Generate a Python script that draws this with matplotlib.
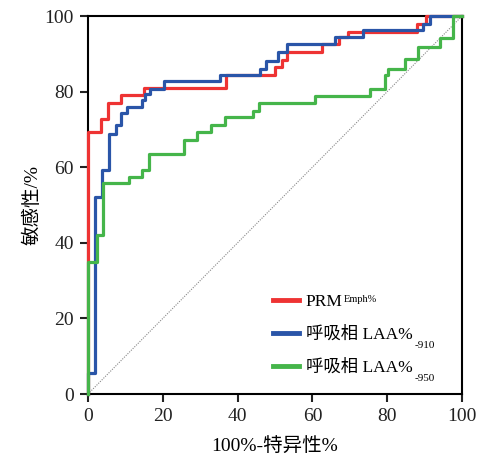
import matplotlib
matplotlib.use("Agg")
import matplotlib.pyplot as plt

plt.rcParams['font.family'] = ['Liberation Serif', 'Noto Sans CJK SC']

# ROC data (1-specificity %, sensitivity %), step points
prm_fpr = [0, 0, 3.4, 5.3, 8.9, 15, 37, 50, 51.8, 53.1, 62.5, 67, 69.6, 88, 90.5, 100]
prm_tpr = [0, 69.4, 72.8, 76.9, 79, 80.9, 84.4, 86.6, 88.4, 90.6, 92.5, 94.5, 95.9, 98, 100, 100]

laa910_fpr = [0, 0, 1.8, 3.8, 5.6, 7.4, 8.7, 10.5, 14.5, 15.2, 16.5, 20.2, 35.3, 46, 47.6,
              50.9, 53.1, 66, 73.6, 89.6, 91.4, 100]
laa910_tpr = [0, 5.6, 52, 59.3, 68.8, 71.2, 74.4, 76, 77.8, 79.5, 80.8, 82.7, 84.4, 86.1, 88.2,
              90.6, 92.5, 94.5, 96.2, 98, 100, 100]

laa950_fpr = [0, 0, 2.3, 4, 11, 14.5, 16.3, 25.6, 29.2, 33, 36.6, 44, 45.7, 60.7, 75.4,
              79.4, 80.3, 84.8, 88.3, 94.1, 97.5, 100]
laa950_tpr = [0, 35, 42, 55.7, 57.5, 59.3, 63.4, 67.3, 69.2, 71.2, 73.2, 75, 76.9, 78.8, 80.7,
              84.4, 86.1, 88.5, 91.9, 94.1, 100, 100]

labels = ['PRM', '呼吸相 LAA%', '呼吸相 LAA%']
label_sups = ['Emph%', None, None]
label_subs = [None, '-910', '-950']
ticks = [0, 20, 40, 60, 80, 100]

fig = plt.figure(figsize=(4.85, 4.59), dpi=100)
ax = fig.add_axes([0.1814, 0.1416, 0.7712, 0.8235])

ax.plot([0, 100], [0, 100], color='#888888', linestyle=(0, (1, 1.2)), linewidth=0.8, zorder=1)

l1, = ax.plot(prm_fpr, prm_tpr, drawstyle='steps-post', color='#EE3333', linewidth=2.3,
              clip_on=False, zorder=3, label=labels[0])
l2, = ax.plot(laa910_fpr, laa910_tpr, drawstyle='steps-post', color='#2A55A8', linewidth=2.3,
              clip_on=False, zorder=4, label=labels[1])
l3, = ax.plot(laa950_fpr, laa950_tpr, drawstyle='steps-post', color='#45B54A', linewidth=2.3,
              clip_on=False, zorder=5, label=labels[2])

ax.set_xlim(0, 100)
ax.set_ylim(0, 100)
ax.set_xticks(ticks)
ax.set_yticks(ticks)
ax.tick_params(direction='out', length=6, width=1.5, pad=4, labelsize=14, colors='#222222',
               top=False, right=False)
for sp in ax.spines.values():
    sp.set_linewidth(1.5)

ax.set_xlabel('100%-特异性%', fontsize=14, labelpad=9)
ax.set_ylabel('敏感性/%', fontsize=14, labelpad=2)

leg = ax.legend(handles=[l1, l2, l3], loc='upper left', bbox_to_anchor=(0.475, 0.283),
                frameon=False, fontsize=12.5, handlelength=1.55, handletextpad=0.35,
                labelspacing=0.95, borderaxespad=0)
for line in leg.get_lines():
    line.set_linewidth(3.5)

# super/subscripts placed after layout is known
fig.canvas.draw()
W, H = fig.canvas.get_width_height()
for txt, sup, sub in zip(leg.get_texts(), label_sups, label_subs):
    bb = txt.get_window_extent()
    if sup:
        fig.text((bb.x1 + 1) / W, (bb.y1 - 1) / H, sup, fontsize=7.5, va='top', ha='left')
    if sub:
        fig.text((bb.x1 + 1) / W, (bb.y0 + 2) / H, sub, fontsize=8, va='top', ha='left')

fig.savefig('out.png', dpi=100)
